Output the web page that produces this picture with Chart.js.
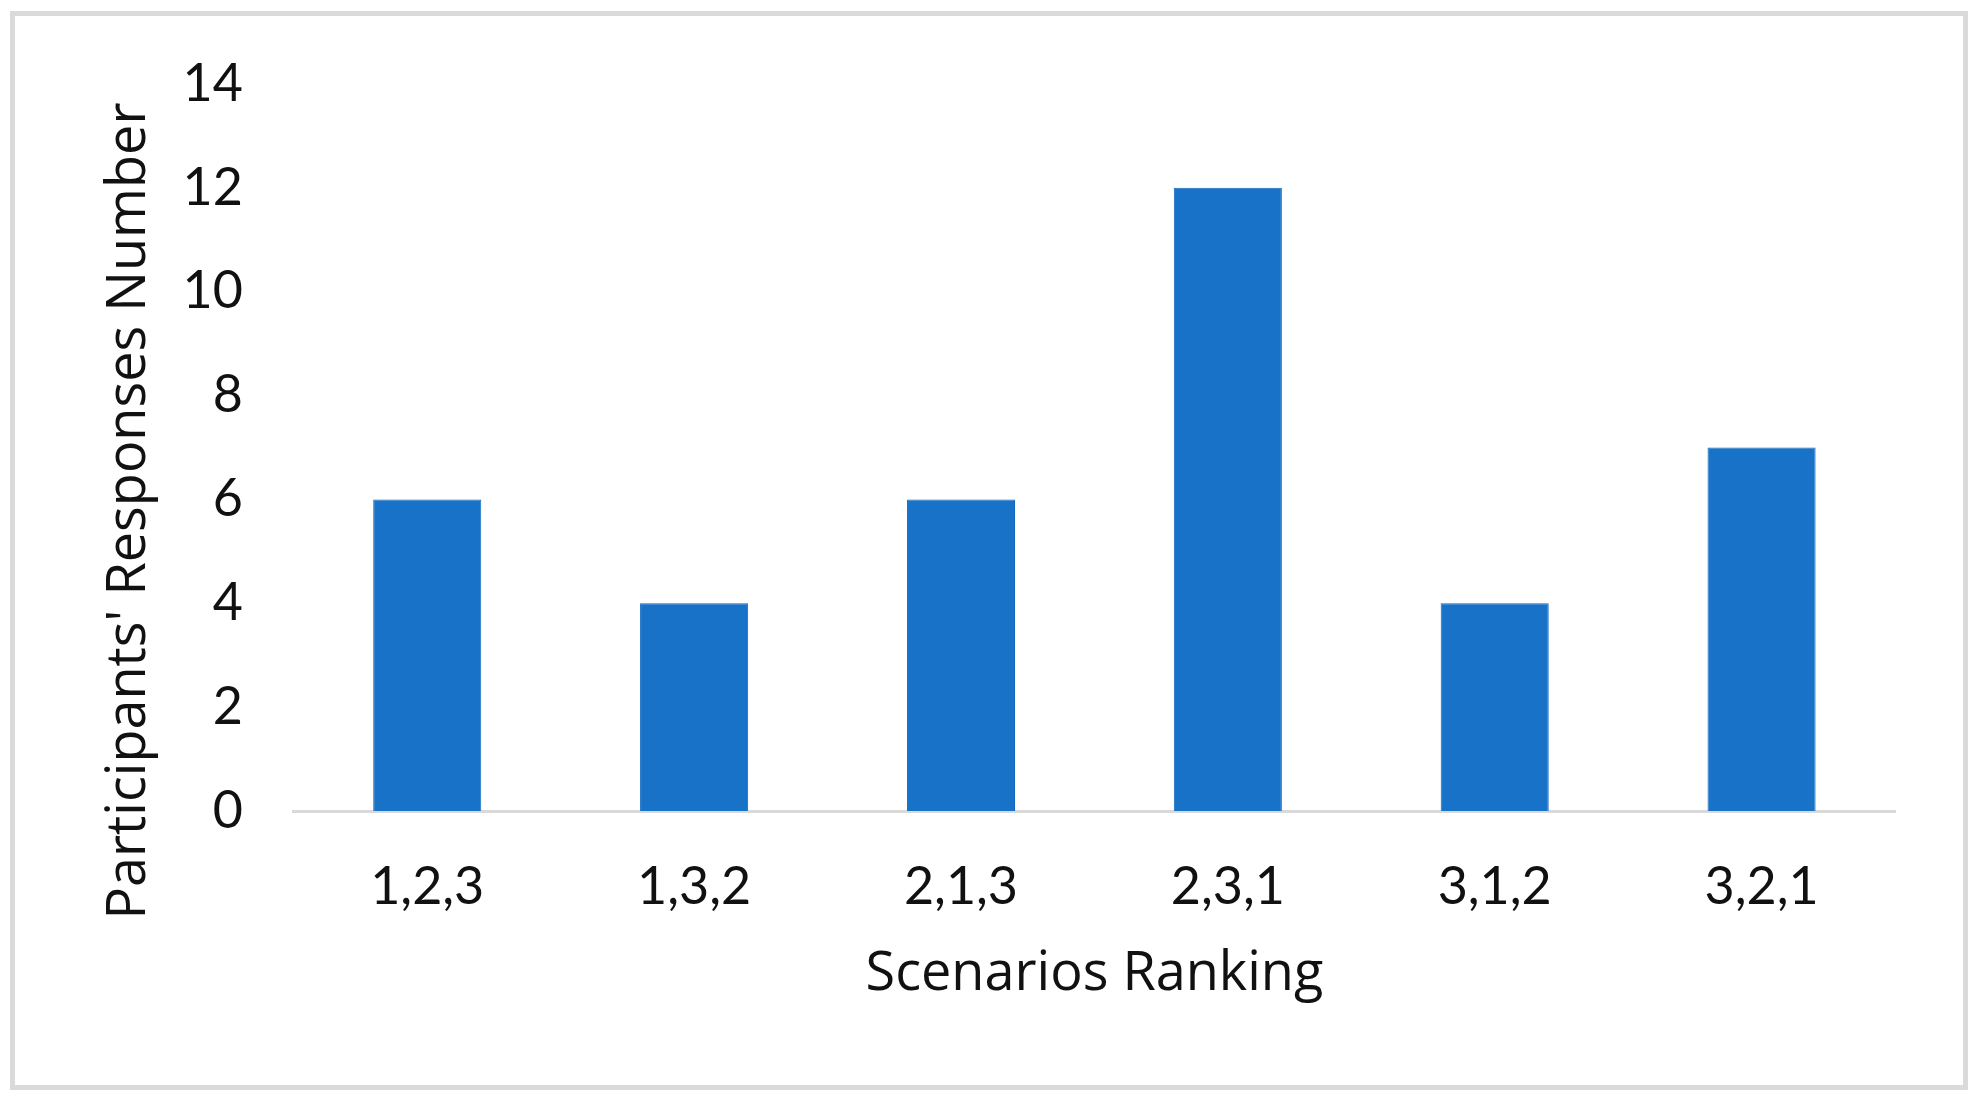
<!DOCTYPE html>
<html>
<head>
<meta charset="utf-8">
<script src="https://cdn.jsdelivr.net/npm/chart.js@4.4.1/dist/chart.umd.min.js"></script>
<style>
    html, body { margin: 0; padding: 0; background: #fff; }
    #frame {
        position: absolute; left: 10px; top: 11px; width: 1958px; height: 1079px;
        border: 5px solid #dadada; box-sizing: border-box;
    }
    #wrap { position: absolute; left: 0; top: 0; width: 1978px; height: 1105px; }
</style>
</head>
<body>
<div id="frame"></div>
<div id="wrap"><canvas id="rankingChart"></canvas></div>
<script>
// Scenario rankings and how many participants picked each
const rankings = ['1,2,3', '1,3,2', '2,1,3', '2,3,1', '3,1,2', '3,2,1'];
const responses = [6, 4, 6, 12, 4, 7];
const yTicks = [0, 2, 4, 6, 8, 10, 12, 14];

const TICK_FONT = 'Lato, "Open Sans", sans-serif';
const TITLE_FONT = '"Open Sans", Lato, sans-serif';
const TEXT = '#111111';

document.addEventListener('DOMContentLoaded', () => {
    const ctx = document.getElementById('rankingChart').getContext('2d');

    new Chart(ctx, {
        type: 'bar',
        data: {
            labels: rankings,
            datasets: [{
                label: "Participants' Responses Number",
                data: responses,
                backgroundColor: '#1772C8',
                borderColor: '#1369BE',
                borderWidth: 1,
                barPercentage: 0.405,
                categoryPercentage: 1.0
            }]
        },
        options: {
            responsive: true,
            maintainAspectRatio: false,
            animation: false,
            layout: {
                padding: { left: 40, right: 83, top: 0, bottom: 83 }
            },
            plugins: {
                legend: { display: false },
                tooltip: { enabled: false },
                // y axis title, centred on the whole chart height like the original
                title: {
                    display: true,
                    position: 'left',
                    text: "Participants' Responses Number",
                    color: TEXT,
                    font: { family: TITLE_FONT, size: 54, weight: 'normal' },
                    padding: { top: 57, bottom: 0 }
                },
                // empty spacer above the plot
                subtitle: {
                    display: true,
                    position: 'top',
                    text: '',
                    font: { size: 10, lineHeight: 1 },
                    padding: { top: 74, bottom: 0 }
                }
            },
            scales: {
                x: {
                    grid: { display: false, drawTicks: false },
                    border: { display: true, color: '#d9d9d9', width: 3 },
                    ticks: {
                        color: TEXT,
                        padding: 45,
                        font: { family: TICK_FONT, size: 52 }
                    },
                    title: {
                        display: true,
                        text: 'Scenarios Ranking',
                        color: TEXT,
                        font: { family: TITLE_FONT, size: 54 },
                        padding: { top: 0, bottom: 15 }
                    },
                    afterFit: scale => { scale.height = 211; }
                },
                y: {
                    min: 0,
                    max: 14,
                    afterBuildTicks: scale => {
                        scale.ticks = yTicks.map(v => ({ value: v }));
                    },
                    grid: { display: false, drawTicks: false },
                    border: { display: false },
                    ticks: {
                        color: TEXT,
                        padding: 51,
                        font: { family: TICK_FONT, size: 52 }
                    },
                    afterFit: scale => { scale.width = 132; }
                }
            }
        }
    });
});
</script>
</body>
</html>
